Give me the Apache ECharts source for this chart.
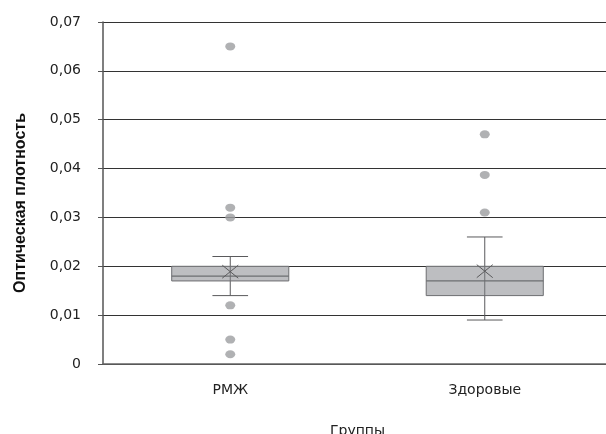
<!DOCTYPE html>
<html>
<head>
<meta charset="utf-8">
<script src="https://cdn.jsdelivr.net/npm/echarts@6/dist/echarts.min.js"></script>
<style>html,body{margin:0;padding:0;background:#fff}#c{width:606px;height:434px}</style>
</head>
<body>
<div id="c"></div>
<script>
const categories = ['РМЖ', 'Здоровые'];
const whiskerLow = [0.014, 0.009];
const q1 = [0.017, 0.014];
const median = [0.018, 0.017];
const q3 = [0.020, 0.020];
const whiskerHigh = [0.022, 0.026];
const mean = [0.0189, 0.019];
const outliersRMZh = [0.065, 0.032, 0.030, 0.012, 0.005, 0.002];
const outliersHealthy = [0.047, 0.0387, 0.031];
const yTickLabels = ['0', '0,01', '0,02', '0,03', '0,04', '0,05', '0,06', '0,07'];

const boxData = categories.map((c, i) => [i, whiskerLow[i], q1[i], median[i], q3[i], whiskerHigh[i], mean[i]]);
const outlierData = [];
outliersRMZh.forEach(v => outlierData.push([0, v]));
outliersHealthy.forEach(v => outlierData.push([1, v]));

const chart = echarts.init(document.getElementById('c'), null, {renderer: 'canvas'});
const lineCol = '#5a5a5c';
chart.setOption({
  animation: false,
  backgroundColor: '#fff',
  grid: {left: 103, right: -6, top: 22, bottom: 70, containLabel: false, outerBoundsMode: 'none'},
  xAxis: {
    type: 'category',
    data: categories,
    boundaryGap: true,
    name: 'Группы',
    nameLocation: 'middle',
    nameGap: 60,
    nameTextStyle: {fontFamily: 'DejaVu Sans', fontSize: 14, color: '#222'},
    axisLine: {show: true, lineStyle: {color: '#666', width: 1.5}},
    axisTick: {show: false},
    axisLabel: {fontFamily: 'DejaVu Sans', fontSize: 14, color: '#222', margin: 19},
    splitLine: {show: false}
  },
  yAxis: {
    type: 'value',
    min: 0, max: 0.07, interval: 0.01,
    axisLine: {show: true, lineStyle: {color: '#555', width: 1.5}},
    axisTick: {show: true, inside: false, length: 5, lineStyle: {color: '#555'}},
    axisLabel: {
      fontFamily: 'DejaVu Sans', fontSize: 14, color: '#222', margin: 22,
      formatter: v => yTickLabels[Math.round(v / 0.01)]
    },
    splitLine: {show: true, lineStyle: {color: '#333', width: 1}}
  },
  graphic: [{
    type: 'text',
    left: 13, top: 113,
    rotation: Math.PI / 2,
    style: {
      text: 'Оптическая плотность',
      fontFamily: 'Liberation Sans', fontWeight: 'bold', fontSize: 16, fill: '#111'
    },
    z: 10
  }],
  series: [{
    type: 'custom',
    data: boxData,
    z: 3,
    renderItem: function (params, api) {
      const x = api.value(0);
      const band = api.size([1, 0])[0];
      const bw = band * 0.46;
      const cw = band * 0.14;
      const pLow = api.coord([x, api.value(1)]);
      const pQ1 = api.coord([x, api.value(2)]);
      const pMed = api.coord([x, api.value(3)]);
      const pQ3 = api.coord([x, api.value(4)]);
      const pHigh = api.coord([x, api.value(5)]);
      const pMean = api.coord([x, api.value(6)]);
      const cx = pQ1[0];
      const st = {stroke: lineCol, lineWidth: 1, fill: null};
      const m = 8, h = 6.5;
      return {
        type: 'group',
        children: [
          {type: 'line', shape: {x1: cx, y1: pHigh[1], x2: cx, y2: pLow[1]}, style: st},
          {type: 'line', shape: {x1: cx - cw / 2, y1: pHigh[1], x2: cx + cw / 2, y2: pHigh[1]}, style: st},
          {type: 'line', shape: {x1: cx - cw / 2, y1: pLow[1], x2: cx + cw / 2, y2: pLow[1]}, style: st},
          {type: 'rect', shape: {x: cx - bw / 2, y: pQ3[1], width: bw, height: pQ1[1] - pQ3[1]},
            style: {fill: '#bdbec1', stroke: '#6d6e71', lineWidth: 1}},
          {type: 'line', shape: {x1: cx, y1: pQ3[1], x2: cx, y2: pQ1[1]}, style: {stroke: '#6d6e71', lineWidth: 1}},
          {type: 'line', shape: {x1: cx - bw / 2, y1: pMed[1], x2: cx + bw / 2, y2: pMed[1]}, style: {stroke: '#6d6e71', lineWidth: 1.2}},
          {type: 'line', shape: {x1: cx - m, y1: pMean[1] - h, x2: cx + m, y2: pMean[1] + h}, style: st},
          {type: 'line', shape: {x1: cx - m, y1: pMean[1] + h, x2: cx + m, y2: pMean[1] - h}, style: st}
        ]
      };
    }
  }, {
    type: 'scatter',
    data: outlierData,
    symbol: 'circle',
    symbolSize: [10, 8],
    itemStyle: {color: '#9c9da0'},
    z: 4
  }]
});
</script>
</body>
</html>
